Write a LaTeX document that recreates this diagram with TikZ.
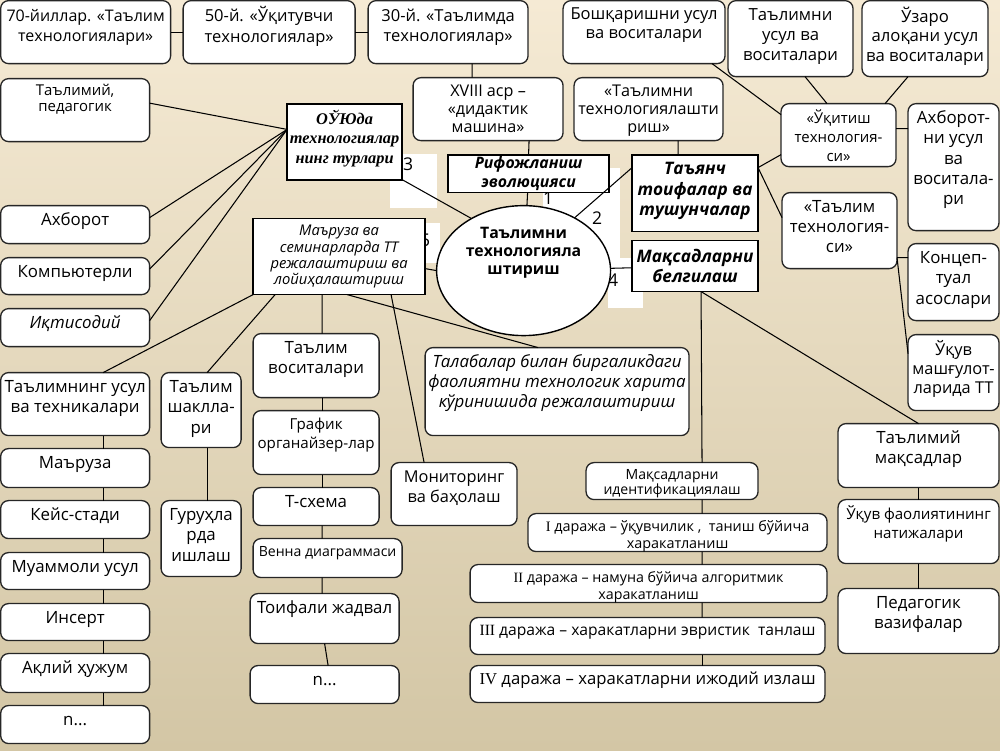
\documentclass[tikz,border=0pt]{standalone}
\usepackage{fontspec}
\setmainfont{Open Sans}
\newfontfamily\timesbi{Liberation Serif}
\usepackage{tikz}
\usetikzlibrary{shapes.geometric}
\usepackage{xcolor}
\definecolor{bgtop}{RGB}{245,234,212}
\definecolor{bgbot}{RGB}{211,198,165}
\newlength{\unitpx}\setlength{\unitpx}{0.02cm}
\newcommand{\boxtxt}[4][t]{\parbox[c][\dimexpr#3\unitpx-12\unitpx\relax][#1]{\dimexpr#2\unitpx-4\unitpx\relax}{\makebox[\linewidth]{\begin{tabular}{@{}c@{}}#4\end{tabular}}}}
\newcommand{\rn}[1]{{\timesbi #1}}

\begin{document}
\begin{tikzpicture}[x=0.02cm,y=-0.02cm,line width=0.6pt,
    every node/.style={inner xsep=0.04cm,inner ysep=0.12cm,outer sep=0,font=\fontsize{9.6}{11.5}\selectfont},
    rbx/.style={draw=black!85,fill=white,line width=0.75pt,rounded corners=4.5pt},
    sbx/.style={draw=black,fill=white,line width=1pt},
    num/.style={inner sep=0,font=\fontsize{10}{12}\selectfont}]
    \shade[top color=bgtop,bottom color=bgbot] (0,0) rectangle (1000,750);
    % white patches round the numbers
    \fill[white] (390,153) rectangle (437,207);
    \fill[white] (543,167) rectangle (620,257);
    \fill[white] (608,257) rectangle (643,307);
    \fill[white] (420,222) rectangle (440,262);
    \node[num](n1) at (548,198) {1};
    \node[num](n2) at (597,218) {2};
    \node[num](n3) at (408,164) {3};
    \node[num](n4) at (613,280) {4};
    \node[num](n5) at (425,240) {5};

    % centre
    \node[ellipse,draw,fill=white,line width=0.8pt,minimum width=3.48cm,minimum height=2.6cm,inner sep=0,font=\bfseries\fontsize{9}{10.4}\selectfont](ell) at (523.5,270) {\parbox[c][90\unitpx][t]{120\unitpx}{\makebox[\linewidth]{\begin{tabular}{@{}c@{}}Таълимни\\технологияла\\штириш\end{tabular}}}};
    \node[sbx,align=center,inner sep=0,minimum width=3.22cm,minimum height=0.76cm,font=\bfseries\itshape\fontsize{9}{10.8}\selectfont](rif) at (528.5,173) {Рифожланиш\\эволюцияси}; \draw (rif) -- (ell);
    \node[sbx,font=\bfseries\itshape\fontsize{9.8}{11.6}\selectfont](tay) at (695,192.5) {\boxtxt{126}{77}{Таъянч\\тоифалар ва\\тушунчалар}}; \draw ([yshift=0.51cm]tay.west) -- (ell.46);
    \node[sbx,align=center,inner sep=0,minimum width=2.52cm,minimum height=1.02cm,font=\bfseries\itshape\fontsize{9.8}{11.2}\selectfont](mqb) at (695,265.5) {Мақсадларни\\белгилаш}; \draw (mqb) -- (ell);
    \node[sbx,font={\timesbi\bfseries\itshape\fontsize{9.3}{11.3}\selectfont}](ouy) at (344.5,141) {\boxtxt{115}{76}{ОЎЮда\\технологиялар\\нинг турлари}}; \draw (ouy.south east) -- (ell.135);
    \node[sbx,font=\itshape\fontsize{8.4}{9.2}\selectfont](mar) at (339,256) {\boxtxt{172}{76}{Маъруза ва\\семинарларда ТТ\\режалаштириш ва\\лойиҳалаштириш}}; \draw ([yshift=-0.24cm]mar.east) -- (ell.west);

    % top row
    \node[rbx,font=\fontsize{9.1}{11.8}\selectfont](y70) at (85.5,31.5) {\boxtxt{170}{63}{70-йиллар. «Таълим\\технологиялари»}};
    \node[rbx,font=\fontsize{9.4}{11.8}\selectfont](y50) at (269,31.5) {\boxtxt{172}{63}{50-й. «Ўқитувчи\\технологиялар»}}; \draw (y70) -- (y50);
    \node[rbx,font=\fontsize{9.4}{11.8}\selectfont](y30) at (448,31.5) {\boxtxt{160}{63}{30-й. «Таълимда\\технологиялар»}}; \draw (y50) -- (y30);
    \node[rbx,font=\fontsize{9.2}{10.3}\selectfont](asr) at (488,108.5) {\boxtxt{150}{63}{XVIII аср –\\«дидактик\\машина»}}; \draw ([xshift=0.48cm]y30.south) -- ([xshift=-0.32cm]asr.north);
    \draw ([xshift=0.82cm]asr.south) -- (rif.north);
    \node[rbx,font=\fontsize{9.2}{10.3}\selectfont](tlash) at (648.5,108.5) {\boxtxt{149}{63}{«Таълимни\\технологиялашти\\риш»}}; \draw ([xshift=0.59cm]tlash.south) -- ([xshift=-0.34cm]tay.north);
    \node[rbx,font=\fontsize{9.4}{10.8}\selectfont](bosh) at (644,31.5) {\boxtxt{162}{63}{Бошқаришни усул\\ва воситалари}};
    \node[rbx,font=\fontsize{9.5}{11.3}\selectfont](usul) at (790.5,38) {\boxtxt{125}{76}{Таълимни\\усул ва\\воситалари}};
    \node[rbx,font=\fontsize{9.5}{11.3}\selectfont](uzaro) at (925,38) {\boxtxt{126}{76}{Ўзаро\\алоқани усул\\ва воситалари}};

    % right side
    \node[rbx,font=\fontsize{8.5}{10.8}\selectfont](ukit) at (838.5,134.5) {\boxtxt{115}{63}{«Ўқитиш\\технология-\\си»}};
    \draw ([xshift=-0.26cm]bosh.south east) -- ([yshift=0.41cm]ukit.west);
    \draw ([xshift=0.29cm]usul.south) -- ([xshift=-0.23cm]ukit.north);
    \draw ([xshift=-0.34cm]uzaro.south) -- ([xshift=-0.22cm]ukit.north east);
    \draw ([yshift=0.51cm]tay.east) -- ([yshift=0.24cm]ukit.south west);
    \node[rbx](axb) at (953.5,166.5) {\boxtxt{91}{127}{Ахборот-\\ни усул\\ва\\воситала-\\ри}}; \draw ([yshift=0.13cm]ukit.east) -- ([yshift=0.77cm]axb.west);
    \node[rbx,font=\fontsize{9.6}{11.3}\selectfont](ttex) at (839.5,230) {\boxtxt{115}{76}{«Таълим\\технология-\\си»}}; \draw ([yshift=0.51cm]tay.east) -- ([yshift=0.26cm]ttex.west);
    \node[rbx](konc) at (953.5,281.5) {\boxtxt{91}{77}{Концеп-\\туал\\асослари}}; \draw ([yshift=-0.54cm]ttex.east) -- ([yshift=0.49cm]konc.west);
    \node[rbx,font=\fontsize{9.3}{10.8}\selectfont](ukuv) at (953.5,372) {\boxtxt{91}{76}{Ўқув\\машғулот-\\ларида ТТ}}; \draw ([yshift=-0.54cm]ttex.east) -- ([yshift=0.38cm]ukuv.west);
    \node[rbx](tmaq) at (918.5,455) {\boxtxt{161}{64}{Таълимий\\мақсадлар}}; \draw ([xshift=0.12cm]mqb.south) -- (tmaq.north);
    \node[rbx,font=\fontsize{8.6}{10.8}\selectfont](ukfa) at (918.5,531) {\boxtxt{161}{64}{Ўқув фаолиятининг\\натижалари}}; \draw (tmaq) -- (ukfa);
    \node[rbx](pedv) at (918.5,620.5) {\boxtxt{161}{65}{Педагогик\\вазифалар}}; \draw (ukfa) -- (pedv);

    % levels
    \node[rbx,font=\fontsize{8}{8.6}\selectfont](mk0) at (672,480.5) {\boxtxt{172}{37}{Мақсадларни\\идентификациялаш}}; \draw ([xshift=0.12cm]mqb.south) -- ([xshift=0.6cm]mk0.north);
    \node[rbx,font=\fontsize{8.2}{9.6}\selectfont](mk1) at (677.5,532) {\boxtxt{299}{38}{\rn{I} даража – ўқувчилик , \ таниш бўйича\\харакатланиш}}; \draw ([xshift=0.6cm]mk0.south) -- ([xshift=0.49cm]mk1.north);
    \node[rbx,font=\fontsize{8.1}{9.6}\selectfont](mk2) at (648.5,583) {\boxtxt{357}{38}{\rn{II} даража – намуна бўйича алгоритмик\\харакатланиш}}; \draw ([xshift=0.49cm]mk1.south) -- ([xshift=1.07cm]mk2.north);
    \node[rbx,font=\fontsize{8.9}{10}\selectfont](mk3) at (647.5,635.5) {\boxtxt{355}{37}{\rn{III} даража – харакатларни эвристик \ танлаш}}; \draw ([xshift=1.07cm]mk2.south) -- ([xshift=1.09cm]mk3.north);
    \node[rbx,font=\fontsize{9.5}{10}\selectfont](mk4) at (647.5,683.5) {\boxtxt{355}{37}{\rn{IV} даража – харакатларни ижодий излаш}}; \draw ([xshift=1.09cm]mk3.south) -- ([xshift=1.09cm]mk4.north);

    % left side
    \node[rbx,font=\fontsize{8.5}{9}\selectfont](tped) at (75,109.5) {\boxtxt{149}{63}{Таълимий,\\педагогик}}; \draw ([yshift=0.14cm]tped.east) -- (ouy.168);
    \node[rbx](axbr) at (75,224) {\boxtxt{149}{38}{Ахборот}}; \draw ([yshift=0.14cm]axbr.east) -- (ouy.168);
    \node[rbx](komp) at (75,275.5) {\boxtxt{149}{37}{Компьютерли}}; \draw ([yshift=0.14cm]komp.east) -- (ouy.168);
    \node[rbx](iqt) at (75,327) {\boxtxt{149}{38}{\itshape Иқтисодий}}; \draw ([yshift=0.14cm]iqt.east) -- (ouy.168);

    \node[rbx](tus) at (75,403.5) {\boxtxt{149}{63}{Таълимнинг усул\\ва техникалари}}; \draw (mar.south west) -- ([xshift=0.56cm]tus.north);
    \node[rbx](marz) at (75,467.5) {\boxtxt{149}{39}{Маъруза}}; \draw ([xshift=0.56cm]tus.south) -- ([xshift=0.56cm]marz.north);
    \node[rbx](keys) at (75,519) {\boxtxt{149}{38}{Кейс-стади}}; \draw ([xshift=0.56cm]marz.south) -- ([xshift=0.56cm]keys.north);
    \node[rbx](muam) at (75,570.5) {\boxtxt{149}{37}{Муаммоли усул}}; \draw ([xshift=0.56cm]keys.south) -- ([xshift=0.56cm]muam.north);
    \node[rbx](ins) at (75,621.5) {\boxtxt{149}{37}{Инсерт}}; \draw ([xshift=0.56cm]muam.south) -- ([xshift=0.56cm]ins.north);
    \node[rbx](aql) at (75,672.5) {\boxtxt{149}{39}{Ақлий ҳужум}}; \draw ([xshift=0.56cm]ins.south) -- ([xshift=0.56cm]aql.north);
    \node[rbx](nl) at (75,724) {\boxtxt{149}{38}{n...}}; \draw ([xshift=0.56cm]aql.south) -- ([xshift=0.56cm]nl.north);

    \node[rbx](shak) at (201,409.5) {\boxtxt{80}{75}{Таълим\\шаклла-\\ри}}; \draw ([xshift=0.44cm]mar.south west) -- ([xshift=0.12cm]shak.north);
    \node[rbx](gur) at (201,538) {\boxtxt{80}{76}{Гуруҳла\\рда\\ишлаш}}; \draw ([xshift=0.12cm]shak.south) -- ([xshift=0.12cm]gur.north);

    \node[rbx](vos) at (316,365) {\boxtxt{126}{64}{Таълим\\воситалари}}; \draw ([xshift=-0.34cm]mar.south) -- ([xshift=0.12cm]vos.north);
    \node[rbx,font=\fontsize{8.6}{10.6}\selectfont](graf) at (316,442) {\boxtxt{126}{64}{График\\органайзер-лар}}; \draw ([xshift=0.12cm]vos.south) -- ([xshift=0.12cm]graf.north);
    \node[rbx](tsx) at (316,506) {\boxtxt{126}{38}{Т-схема}}; \draw ([xshift=0.12cm]graf.south) -- ([xshift=0.12cm]tsx.north);
    \node[rbx,font=\fontsize{8}{9.5}\selectfont](venn) at (327.5,557.5) {\boxtxt{149}{39}{Венна диаграммаси}}; \draw ([xshift=0.12cm]tsx.south) -- ([xshift=-0.11cm]venn.north);
    \node[rbx](toif) at (324.5,618) {\boxtxt{149}{50}{Тоифали жадвал}}; \draw ([xshift=-0.11cm]venn.south) -- ([xshift=-0.05cm]toif.north);
    \node[rbx](nm) at (324.5,684) {\boxtxt{149}{38}{n...}}; \draw (toif.south) -- ([xshift=0.07cm]nm.north);

    \node[rbx,font=\fontsize{9.3}{11.5}\selectfont](mon) at (454,493.5) {\boxtxt{126}{63}{Мониторинг\\ва баҳолаш}}; \draw ([xshift=1.04cm]mar.south) -- ([xshift=-0.6cm]mon.north);
    \node[rbx,font=\itshape\fontsize{9.6}{11.3}\selectfont](tal) at (557,391) {\boxtxt{264}{88}{Талабалар билан биргаликдаги\\фаолиятни технологик харита\\кўринишида режалаштириш}}; \draw ([xshift=0.16cm]mar.south) -- ([xshift=-0.38cm]tal.north);
\end{tikzpicture}
\end{document}
